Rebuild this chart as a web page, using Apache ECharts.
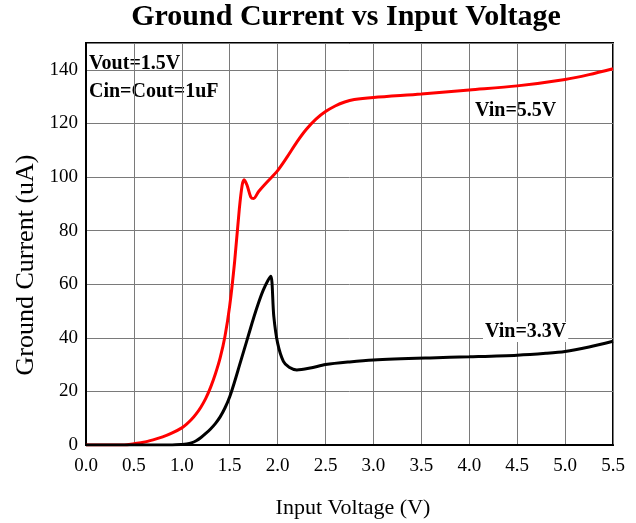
<!DOCTYPE html>
<html>
<head>
<meta charset="utf-8">
<script src="https://cdn.jsdelivr.net/npm/echarts@6/dist/echarts.min.js"></script>
<style>
html,body{margin:0;padding:0;background:#fff;}
#chart{width:636px;height:523px;}
</style>
</head>
<body>
<div id="chart"></div>
<script>
// Data: [input voltage (V), ground current (uA)]
const vin55 = [
  [0.0,0],[0.4,0],[0.5,0.5],[0.6,1.0],[0.7,1.9],[0.8,3.0],[0.9,4.5],[1.0,6.4],
  [1.05,7.8],[1.1,9.5],[1.15,11.6],[1.2,14.2],[1.25,17.4],[1.3,21.5],[1.35,26.5],[1.4,32.5],[1.45,40.5],[1.5,52],
  [1.55,68],[1.6,88],[1.63,97],[1.65,99],[1.68,97],[1.72,92.5],[1.75,92],[1.8,94.5],
  [1.9,98.5],[2.0,102.4],[2.1,107.5],[2.2,113],[2.3,117.8],[2.4,121.6],[2.5,124.4],
  [2.6,126.5],[2.7,128],[2.8,128.9],[3.0,129.7],[3.5,131],[4.0,132.5],[4.5,134],
  [5.0,136.4],[5.25,138.2],[5.5,140.4]
];
const vin33 = [
  [0.0,0],[0.9,0],[1.0,0.2],[1.05,0.4],[1.1,0.8],[1.15,1.6],[1.2,2.8],[1.25,4.3],
  [1.3,6],[1.35,8],[1.4,10.5],[1.45,13.8],[1.5,18],[1.55,23.5],[1.6,29.5],[1.65,35.5],[1.7,41.5],[1.75,47.5],
  [1.8,53],[1.85,57.8],[1.9,61.5],[1.93,63],[1.96,48],[2.0,38],[2.06,31.2],[2.12,29],[2.2,28],
  [2.34,28.7],[2.5,30],[2.75,31],[3.0,31.7],[3.59,32.5],[4.0,32.9],[4.5,33.5],
  [4.8,34.2],[5.0,34.9],[5.25,36.6],[5.5,38.7]
];
const xTicks = {min:0, max:5.5, interval:0.5};
const yTicks = {min:0, max:150, interval:20};
const titleText = 'Ground Current vs Input Voltage';
const xName = 'Input Voltage (V)';
const yName = 'Ground Current (uA)';
const notes = ['Vout=1.5V','Cin=Cout=1uF'];
const seriesLabels = ['Vin=5.5V','Vin=3.3V'];

const serif = "'Liberation Serif','Times New Roman',serif";
const chart = echarts.init(document.getElementById('chart'), null, {renderer:'canvas'});
chart.setOption({
  animation:false,
  backgroundColor:'#fff',
  grid:{left:86, right:23, top:43, bottom:78, show:true, borderColor:'#000', borderWidth:2, backgroundColor:'transparent'},
  xAxis:{
    type:'value', min:xTicks.min, max:xTicks.max, interval:xTicks.interval,
    axisLine:{show:true, lineStyle:{color:'#000', width:2}},
    axisTick:{show:false},
    axisLabel:{color:'#000', fontFamily:serif, fontSize:19, margin:12, formatter:v=>v.toFixed(1)},
    splitLine:{show:true, lineStyle:{color:'#7a7a7a', width:1}}
  },
  yAxis:{
    type:'value', min:yTicks.min, max:yTicks.max, interval:yTicks.interval,
    axisLine:{show:true, lineStyle:{color:'#000', width:2}},
    axisTick:{show:false},
    axisLabel:{color:'#000', fontFamily:serif, fontSize:19, margin:8, formatter:v=> v%20===0 && v<150 ? String(v) : ''},
    splitLine:{show:true, lineStyle:{color:'#7a7a7a', width:1}}
  },
  series:[
    {type:'line', data:vin55, showSymbol:false, smooth:0.3, lineStyle:{color:'#ff0000', width:3}, z:3},
    {type:'line', data:vin33, showSymbol:false, smooth:0.3, lineStyle:{color:'#000', width:3}, z:4}
  ],
  graphic:[
    {type:'text', x:346, y:17, style:{text:titleText, font:"bold 30px "+serif, fill:'#000', align:'center', verticalAlign:'middle'}},
    {type:'text', x:353, y:508, style:{text:xName, font:"22px "+serif, fill:'#000', align:'center', verticalAlign:'middle'}},
    {type:'text', x:26, y:265, rotation:Math.PI/2, style:{text:yName, font:"26px "+serif, fill:'#000', align:'center', verticalAlign:'middle'}},
    {type:'text', x:89, y:63.5, style:{text:notes[0], font:"bold 20px "+serif, fill:'#000', align:'left', verticalAlign:'middle'}},
    {type:'text', x:89, y:91.5, style:{text:notes[1], font:"bold 20px "+serif, fill:'#000', align:'left', verticalAlign:'middle'}},
    {type:'text', x:475, y:111, style:{text:seriesLabels[0], font:"bold 20px "+serif, fill:'#000', align:'left', verticalAlign:'middle'}},
    {type:'text', x:483, y:332, z:10, style:{text:seriesLabels[1], font:"bold 20px "+serif, fill:'#000', align:'left', verticalAlign:'middle', backgroundColor:'#fff', padding:[0,2,0,2]}}
  ]
});
</script>
</body>
</html>
